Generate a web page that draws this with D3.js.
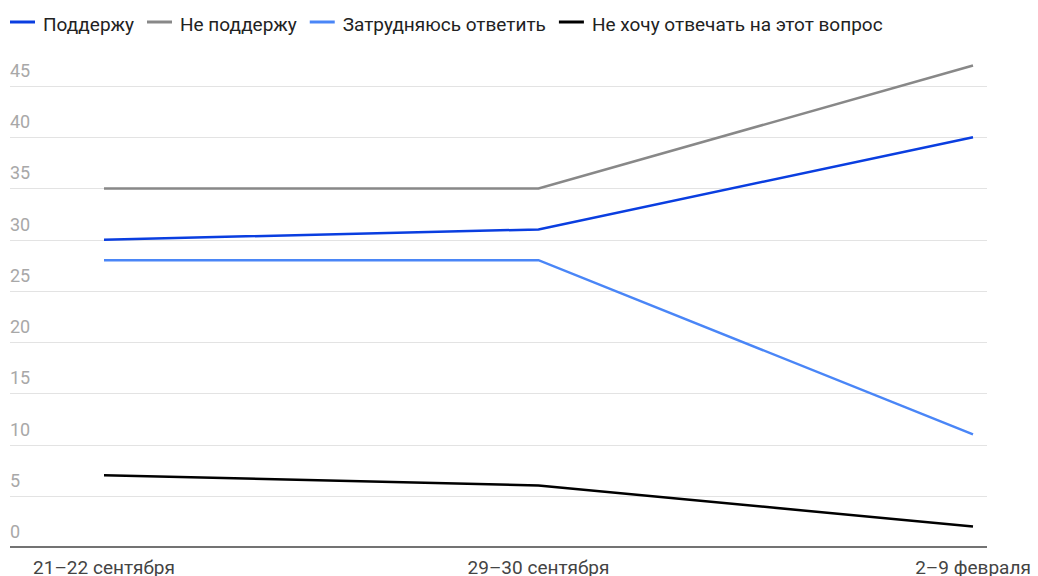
<!DOCTYPE html>
<html>
<head>
<meta charset="utf-8">
<script src="https://cdn.jsdelivr.net/npm/d3@7"></script>
<style>
  body { margin: 0; background: #fff; }
  svg { display: block; font-family: Roboto, "Noto Sans", sans-serif; }
</style>
</head>
<body>
<script>
const categories = ['21–22 сентября', '29–30 сентября', '2–9 февраля'];
const seriesNames = ['Поддержу', 'Не поддержу', 'Затрудняюсь ответить', 'Не хочу отвечать на этот вопрос'];
const support = [30, 31, 40];
const notSupport = [35, 35, 47];
const undecided = [28, 28, 11];
const noAnswer = [7, 6, 2];
const yTicks = [0, 5, 10, 15, 20, 25, 30, 35, 40, 45];
const colors = ['#0a3ee0', '#888888', '#4a86f7', '#000000'];

const series = [support, notSupport, undecided, noAnswer].map((values, i) => ({
  name: seriesNames[i],
  color: colors[i],
  values: values
}));

const width = 1038,
  height = 576;

const svg = d3
  .select('body')
  .append('svg')
  .attr('width', width)
  .attr('height', height);

const x = d3.scalePoint().domain(categories).range([104, 973]);
const y = d3.scaleLinear().domain([0, 45]).range([547, 86]);

// grid
svg
  .selectAll('.grid')
  .data(yTicks.filter(d => d > 0))
  .enter()
  .append('line')
  .attr('class', 'grid')
  .attr('x1', 10)
  .attr('x2', 987)
  .attr('y1', d => Math.round(y(d)) + 0.5)
  .attr('y2', d => Math.round(y(d)) + 0.5)
  .style('stroke', '#e3e3e3')
  .style('stroke-width', '1px');

svg
  .selectAll('.ylab')
  .data(yTicks)
  .enter()
  .append('text')
  .attr('class', 'ylab')
  .attr('x', 10)
  .attr('y', d => y(d) - 9)
  .style('font-size', '18px')
  .style('fill', '#a8a8a8')
  .text(d => d);

// x axis line
svg
  .append('line')
  .attr('x1', 10)
  .attr('x2', 987)
  .attr('y1', y(0))
  .attr('y2', y(0))
  .style('stroke', '#444')
  .style('stroke-width', '1.5px');

svg
  .selectAll('.xlab')
  .data(categories)
  .enter()
  .append('text')
  .attr('class', 'xlab')
  .attr('x', d => x(d))
  .attr('y', 574)
  .attr('text-anchor', 'middle')
  .style('font-size', '19px')
  .style('fill', '#444')
  .text(d => d);

const line = d3
  .line()
  .x((d, i) => x(categories[i]))
  .y(d => y(d));

svg
  .selectAll('.series')
  .data(series)
  .enter()
  .append('path')
  .attr('class', 'series')
  .attr('d', d => line(d.values))
  .style('fill', 'none')
  .style('stroke', d => d.color)
  .style('stroke-width', '2.5px');

// legend
const legend = svg.append('g');
let lx = 10;
series.forEach(s => {
  legend
    .append('line')
    .attr('x1', lx)
    .attr('x2', lx + 25)
    .attr('y1', 22)
    .attr('y2', 22)
    .style('stroke', s.color)
    .style('stroke-width', '3px');
  const t = legend
    .append('text')
    .attr('x', lx + 33)
    .attr('y', 31)
    .style('font-size', '19px')
    .style('fill', '#222')
    .text(s.name);
  lx += 33 + t.node().getComputedTextLength() + 13;
});
</script>
</body>
</html>
